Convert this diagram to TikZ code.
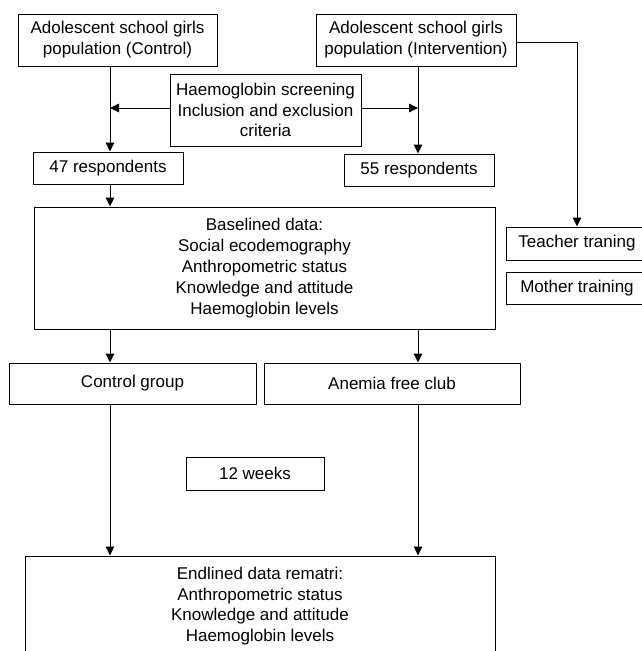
\documentclass[tikz,border=0pt]{standalone}
\usepackage{fontspec}
\setmainfont{Liberation Sans}
\usetikzlibrary{arrows.meta}
\begin{document}
\begin{tikzpicture}[x=1pt,y=-1pt,
  box/.style={draw, line width=1pt, inner sep=0pt, align=center,
    font=\fontsize{17}{20.8}\selectfont},
  arr/.style={line width=1pt, -{Triangle[length=9pt,width=8.5pt]}}]
\useasboundingbox (0,0) rectangle (641,651);
\coordinate (cL) at (110,0);
\coordinate (cR) at (418,0);
\node[box, minimum width=199pt, minimum height=52pt] (ctrlpop) at (117.5,40) {Adolescent school girls\\population (Control)};
\node[box, minimum width=200pt, minimum height=52pt] (intpop) at (416,40) {Adolescent school girls\\population (Intervention)};
\node[box, minimum width=191pt, minimum height=72pt] (screen) at (265.5,110) {Haemoglobin screening\\Inclusion and exclusion\\criteria};
\node[box, minimum width=150pt, minimum height=32pt] (r47) at (108,168) {47 respondents};
\node[box, minimum width=150pt, minimum height=32pt] (r55) at (419,170) {55 respondents};
\node[box, minimum width=142pt, minimum height=33pt] (teacher) at (577,243.5) {Teacher traning};
\node[box, minimum width=142pt, minimum height=32pt] (mother) at (577,288) {Mother training};
\node[box, minimum width=461pt, minimum height=122pt] (baseline) at (264.5,268) {Baselined data:\\Social ecodemography\\Anthropometric status\\Knowledge and attitude\\Haemoglobin levels};
\node[box, minimum width=247pt, minimum height=41pt] (ctrlgrp) at (132.5,383.5) {Control group};
\node[box, minimum width=256pt, minimum height=41pt] (anemia) at (392,383.5) {Anemia free club};
\node[box, minimum width=138pt, minimum height=33pt] (weeks) at (255,473.5) {12 weeks};
\node[box, minimum width=470pt, minimum height=100pt] (endline) at (260,606) {Endlined data rematri:\\Anthropometric status\\Knowledge and attitude\\Haemoglobin levels};
\draw[arr] (ctrlpop.south -| cL) -- (r47.north -| cL);
\draw[arr] (intpop.south -| cR) -- (r55.north -| cR);
\draw[arr] ([yshift=2pt]screen.west) -- ([yshift=2pt]screen.west -| cL);
\draw[arr] ([yshift=2pt]screen.east) -- ([yshift=2pt]screen.east -| cR);
\draw[arr] ([yshift=-2pt]intpop.east) -| (teacher.north);
\draw[arr] (r47.south -| cL) -- (baseline.north -| cL);
\draw[arr] (baseline.south -| cL) -- (ctrlgrp.north -| cL);
\draw[arr] (baseline.south -| cR) -- (anemia.north -| cR);
\draw[arr] (ctrlgrp.south -| cL) -- (endline.north -| cL);
\draw[arr] (anemia.south -| cR) -- (endline.north -| cR);
\end{tikzpicture}
\end{document}
